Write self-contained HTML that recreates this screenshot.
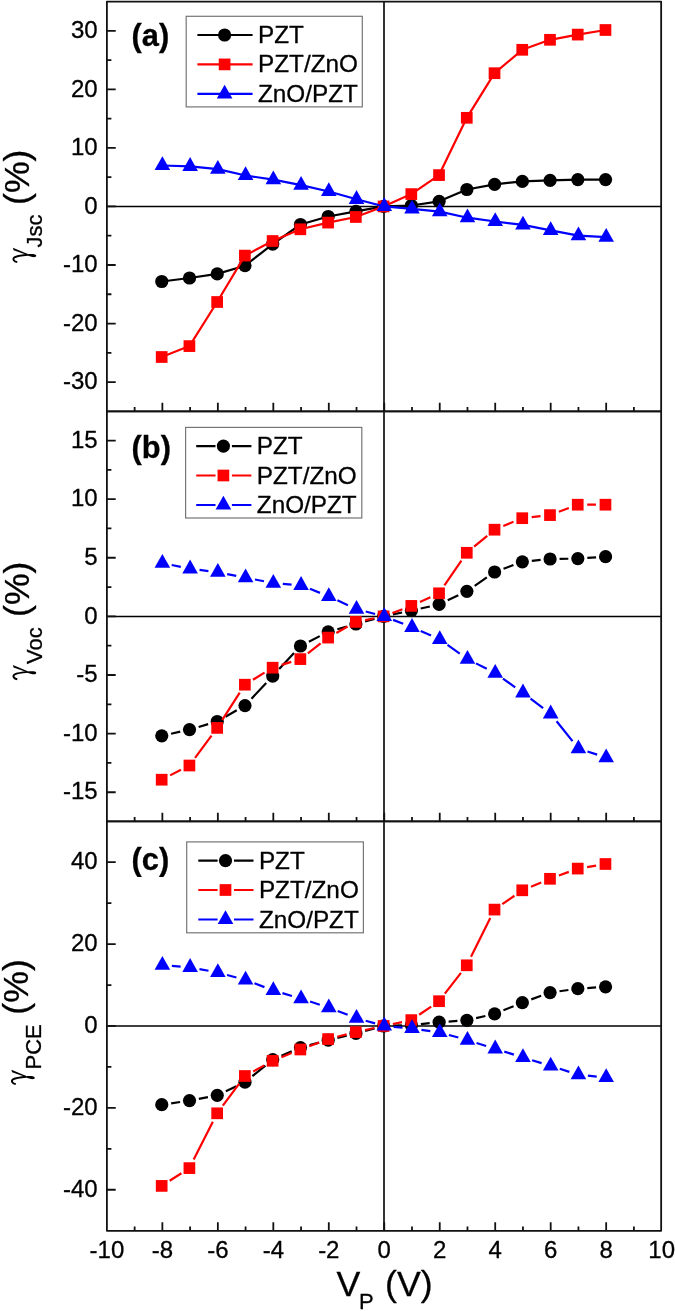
<!DOCTYPE html><html><head><meta charset="utf-8"><style>html,body{margin:0;padding:0;background:#fff;}svg{display:block;font-family:"Liberation Sans",sans-serif;}text{filter:grayscale(1);stroke:#000;stroke-width:0.3px;}</style></head><body>
<svg width="675" height="1311" viewBox="0 0 675 1311">
<rect width="675" height="1311" fill="#fff"/>
<path d="M106.9 206.45H661.15" stroke="#000" stroke-width="1.5" fill="none"/>
<path d="M384 1.6V411.3" stroke="#333" stroke-width="2" fill="none"/>
<g stroke="#111" stroke-width="1.8" fill="none" stroke-linejoin="round">
<path d="M106.9 1.6H661.15V411.3H106.9Z"/>
<path d="M106.9 382.07h8.8M106.9 352.8h4.5M106.9 323.53h8.8M106.9 294.26h4.5M106.9 264.99h8.8M106.9 235.72h4.5M106.9 206.45h8.8M106.9 177.18h4.5M106.9 147.91h8.8M106.9 118.64h4.5M106.9 89.37h8.8M106.9 60.1h4.5M106.9 30.83h8.8M134.64 411.3v-4.3M162.37 411.3v-8.6M190.11 411.3v-4.3M217.85 411.3v-8.6M245.58 411.3v-4.3M273.32 411.3v-8.6M301.06 411.3v-4.3M328.8 411.3v-8.6M356.53 411.3v-4.3M384.27 411.3v-8.6M412.01 411.3v-4.3M439.74 411.3v-8.6M467.48 411.3v-4.3M495.22 411.3v-8.6M522.95 411.3v-4.3M550.69 411.3v-8.6M578.43 411.3v-4.3M606.17 411.3v-8.6M633.9 411.3v-4.3"/>
</g>
<g font-size="24" text-anchor="end" fill="#000">
<text x="97.6" y="38.03">30</text>
<text x="97.6" y="96.57">20</text>
<text x="97.6" y="155.11">10</text>
<text x="97.6" y="213.65">0</text>
<text x="97.6" y="272.19">-10</text>
<text x="97.6" y="330.73">-20</text>
<text x="97.6" y="389.27">-30</text>
</g>
<path d="M161.77 281.5L189.51 278L217.25 273.9L244.98 265.7L272.72 244.1L300.46 224.5L328.2 216.5L355.93 211.4L383.67 206.45L411.41 205.5L439.14 201.3L466.88 189.5L494.62 184.3L522.35 181.4L550.09 180.4L577.83 179.6L605.57 179.6" fill="none" stroke="#000000" stroke-width="2.2" stroke-linejoin="round"/>
<circle cx="161.77" cy="281.5" r="6.6" fill="#000"/><circle cx="189.51" cy="278" r="6.6" fill="#000"/><circle cx="217.25" cy="273.9" r="6.6" fill="#000"/><circle cx="244.98" cy="265.7" r="6.6" fill="#000"/><circle cx="272.72" cy="244.1" r="6.6" fill="#000"/><circle cx="300.46" cy="224.5" r="6.6" fill="#000"/><circle cx="328.2" cy="216.5" r="6.6" fill="#000"/><circle cx="355.93" cy="211.4" r="6.6" fill="#000"/><circle cx="383.67" cy="206.45" r="6.6" fill="#000"/><circle cx="411.41" cy="205.5" r="6.6" fill="#000"/><circle cx="439.14" cy="201.3" r="6.6" fill="#000"/><circle cx="466.88" cy="189.5" r="6.6" fill="#000"/><circle cx="494.62" cy="184.3" r="6.6" fill="#000"/><circle cx="522.35" cy="181.4" r="6.6" fill="#000"/><circle cx="550.09" cy="180.4" r="6.6" fill="#000"/><circle cx="577.83" cy="179.6" r="6.6" fill="#000"/><circle cx="605.57" cy="179.6" r="6.6" fill="#000"/>
<path d="M161.67 357L189.41 346.1L217.15 302L244.88 255.6L272.62 241L300.36 229.3L328.1 222.6L355.83 217L383.57 206.45L411.31 194.1L439.04 175.1L466.78 117.8L494.52 73.2L522.25 49.8L549.99 39.8L577.73 34.6L605.47 30" fill="none" stroke="#ff0000" stroke-width="2.2" stroke-linejoin="round"/>
<rect x="155.82" y="351.15" width="11.7" height="11.7" fill="#f00"/><rect x="183.56" y="340.25" width="11.7" height="11.7" fill="#f00"/><rect x="211.3" y="296.15" width="11.7" height="11.7" fill="#f00"/><rect x="239.03" y="249.75" width="11.7" height="11.7" fill="#f00"/><rect x="266.77" y="235.15" width="11.7" height="11.7" fill="#f00"/><rect x="294.51" y="223.45" width="11.7" height="11.7" fill="#f00"/><rect x="322.25" y="216.75" width="11.7" height="11.7" fill="#f00"/><rect x="349.98" y="211.15" width="11.7" height="11.7" fill="#f00"/><rect x="377.72" y="200.6" width="11.7" height="11.7" fill="#f00"/><rect x="405.46" y="188.25" width="11.7" height="11.7" fill="#f00"/><rect x="433.19" y="169.25" width="11.7" height="11.7" fill="#f00"/><rect x="460.93" y="111.95" width="11.7" height="11.7" fill="#f00"/><rect x="488.67" y="67.35" width="11.7" height="11.7" fill="#f00"/><rect x="516.4" y="43.95" width="11.7" height="11.7" fill="#f00"/><rect x="544.14" y="33.95" width="11.7" height="11.7" fill="#f00"/><rect x="571.88" y="28.75" width="11.7" height="11.7" fill="#f00"/><rect x="599.62" y="24.15" width="11.7" height="11.7" fill="#f00"/>
<path d="M162.37 165.5L190.11 166.3L217.85 169.1L245.58 175.5L273.32 179.6L301.06 185.1L328.8 191.5L356.53 199.3L384.27 206.45L412.01 208.9L439.74 211.6L467.48 217.7L495.22 221.5L522.95 224.9L550.69 230.4L578.43 235.7L606.17 237.1" fill="none" stroke="#0000ff" stroke-width="2.2" stroke-linejoin="round"/>
<path d="M162.37 156.3L170.17 170.1L154.57 170.1Z" fill="#00f"/><path d="M190.11 157.1L197.91 170.9L182.31 170.9Z" fill="#00f"/><path d="M217.85 159.9L225.65 173.7L210.05 173.7Z" fill="#00f"/><path d="M245.58 166.3L253.38 180.1L237.78 180.1Z" fill="#00f"/><path d="M273.32 170.4L281.12 184.2L265.52 184.2Z" fill="#00f"/><path d="M301.06 175.9L308.86 189.7L293.26 189.7Z" fill="#00f"/><path d="M328.8 182.3L336.6 196.1L321 196.1Z" fill="#00f"/><path d="M356.53 190.1L364.33 203.9L348.73 203.9Z" fill="#00f"/><path d="M384.27 197.25L392.07 211.05L376.47 211.05Z" fill="#00f"/><path d="M412.01 199.7L419.81 213.5L404.21 213.5Z" fill="#00f"/><path d="M439.74 202.4L447.54 216.2L431.94 216.2Z" fill="#00f"/><path d="M467.48 208.5L475.28 222.3L459.68 222.3Z" fill="#00f"/><path d="M495.22 212.3L503.02 226.1L487.42 226.1Z" fill="#00f"/><path d="M522.95 215.7L530.75 229.5L515.15 229.5Z" fill="#00f"/><path d="M550.69 221.2L558.49 235L542.89 235Z" fill="#00f"/><path d="M578.43 226.5L586.23 240.3L570.63 240.3Z" fill="#00f"/><path d="M606.17 227.9L613.97 241.7L598.37 241.7Z" fill="#00f"/>
<path d="M106.9 616.38H661.15" stroke="#000" stroke-width="1.5" fill="none"/>
<path d="M384 411.3V821.4" stroke="#333" stroke-width="2" fill="none"/>
<g stroke="#111" stroke-width="1.8" fill="none" stroke-linejoin="round">
<path d="M106.9 411.3H661.15V821.4H106.9Z"/>
<path d="M106.9 792.23h8.8M106.9 762.92h4.5M106.9 733.61h8.8M106.9 704.3h4.5M106.9 675h8.8M106.9 645.69h4.5M106.9 616.38h8.8M106.9 587.07h4.5M106.9 557.76h8.8M106.9 528.46h4.5M106.9 499.15h8.8M106.9 469.84h4.5M106.9 440.53h8.8M134.64 821.4v-4.3M162.37 821.4v-8.6M190.11 821.4v-4.3M217.85 821.4v-8.6M245.58 821.4v-4.3M273.32 821.4v-8.6M301.06 821.4v-4.3M328.8 821.4v-8.6M356.53 821.4v-4.3M384.27 821.4v-8.6M412.01 821.4v-4.3M439.74 821.4v-8.6M467.48 821.4v-4.3M495.22 821.4v-8.6M522.95 821.4v-4.3M550.69 821.4v-8.6M578.43 821.4v-4.3M606.17 821.4v-8.6M633.9 821.4v-4.3"/>
</g>
<g font-size="24" text-anchor="end" fill="#000">
<text x="97.6" y="447.73">15</text>
<text x="97.6" y="506.35">10</text>
<text x="97.6" y="564.97">5</text>
<text x="97.6" y="623.58">0</text>
<text x="97.6" y="682.2">-5</text>
<text x="97.6" y="740.81">-10</text>
<text x="97.6" y="799.43">-15</text>
</g>
<path d="M171.05 733.73L180.24 731.67M198.63 726.94L208.13 724.16M225.49 716.78L236.74 710.32M251.49 698.68L266.21 683.02M279.16 669.11L294.02 652.99M308.92 641.67L319.74 636.13M337.34 629.23L346.79 626.57M365.09 621.48L374.51 618.9M392.97 614.44L402.11 612.54M420.68 608.53L429.87 606.47M447.73 600.34L458.29 595.36M474.68 585.87L486.82 577.43M503.53 568.72L513.44 565.08M531.81 560.85L540.64 559.95M559.59 558.86L568.33 558.74M587.31 557.95L596.09 557.35" fill="none" stroke="#000000" stroke-width="2.2" stroke-linejoin="round"/>
<circle cx="161.77" cy="735.8" r="6.6" fill="#000"/><circle cx="189.51" cy="729.6" r="6.6" fill="#000"/><circle cx="217.25" cy="721.5" r="6.6" fill="#000"/><circle cx="244.98" cy="705.6" r="6.6" fill="#000"/><circle cx="272.72" cy="676.1" r="6.6" fill="#000"/><circle cx="300.46" cy="646" r="6.6" fill="#000"/><circle cx="328.2" cy="631.8" r="6.6" fill="#000"/><circle cx="355.93" cy="624" r="6.6" fill="#000"/><circle cx="383.67" cy="616.38" r="6.6" fill="#000"/><circle cx="411.41" cy="610.6" r="6.6" fill="#000"/><circle cx="439.14" cy="604.4" r="6.6" fill="#000"/><circle cx="466.88" cy="591.3" r="6.6" fill="#000"/><circle cx="494.62" cy="572" r="6.6" fill="#000"/><circle cx="522.35" cy="561.8" r="6.6" fill="#000"/><circle cx="550.09" cy="559" r="6.6" fill="#000"/><circle cx="577.83" cy="558.6" r="6.6" fill="#000"/><circle cx="605.57" cy="556.7" r="6.6" fill="#000"/>
<path d="M170.13 775.37L180.95 769.83M195.05 757.86L211.51 735.54M222.28 719.91L239.75 692.69M252.98 679.74L264.52 672.66M281.7 664.89L291.29 661.91M307.87 653.28L320.59 643.42M336.36 632.92L347.57 626.58M365.15 620.05L374.25 618.23M392.46 613.02L402.42 609.26M419.96 601.97L430.39 597.23M444.41 585.46L461.41 560.64M474.08 546.72L487.22 535.78M503.29 526.06L513.48 521.84M531.7 517.14L540.55 516.16M558.89 511.76L568.83 508.04M587.23 504.7L595.97 504.7" fill="none" stroke="#ff0000" stroke-width="2.2" stroke-linejoin="round"/>
<rect x="155.82" y="773.85" width="11.7" height="11.7" fill="#f00"/><rect x="183.56" y="759.65" width="11.7" height="11.7" fill="#f00"/><rect x="211.3" y="722.05" width="11.7" height="11.7" fill="#f00"/><rect x="239.03" y="678.85" width="11.7" height="11.7" fill="#f00"/><rect x="266.77" y="661.85" width="11.7" height="11.7" fill="#f00"/><rect x="294.51" y="653.25" width="11.7" height="11.7" fill="#f00"/><rect x="322.25" y="631.75" width="11.7" height="11.7" fill="#f00"/><rect x="349.98" y="616.05" width="11.7" height="11.7" fill="#f00"/><rect x="377.72" y="610.53" width="11.7" height="11.7" fill="#f00"/><rect x="405.46" y="600.05" width="11.7" height="11.7" fill="#f00"/><rect x="433.19" y="587.45" width="11.7" height="11.7" fill="#f00"/><rect x="460.93" y="546.95" width="11.7" height="11.7" fill="#f00"/><rect x="488.67" y="523.85" width="11.7" height="11.7" fill="#f00"/><rect x="516.4" y="512.35" width="11.7" height="11.7" fill="#f00"/><rect x="544.14" y="509.25" width="11.7" height="11.7" fill="#f00"/><rect x="571.88" y="498.85" width="11.7" height="11.7" fill="#f00"/><rect x="599.62" y="498.85" width="11.7" height="11.7" fill="#f00"/>
<path d="M171.68 565.01L180.81 566.89M199.54 569.96L208.42 571.04M227.17 574.05L236.27 575.85M254.91 579.52L264 581.28M282.79 583.85L291.59 584.55M309.88 588.83L319.98 592.87M337.43 600.35L347.9 605.15M365.72 611.51L375.08 613.97M393.11 619.86L403.17 623.82M420.71 631.1L431.04 635.6M447.49 644.9L459.74 653.6M475.96 663.38L486.74 668.82M502.96 678.6L515.21 687.3M530.53 698.53L543.12 708.07M556.61 721.23L572.51 741.17M587.47 751.53L597.13 754.67" fill="none" stroke="#0000ff" stroke-width="2.2" stroke-linejoin="round"/>
<path d="M162.37 553.9L170.17 567.7L154.57 567.7Z" fill="#00f"/><path d="M190.11 559.6L197.91 573.4L182.31 573.4Z" fill="#00f"/><path d="M217.85 563L225.65 576.8L210.05 576.8Z" fill="#00f"/><path d="M245.58 568.5L253.38 582.3L237.78 582.3Z" fill="#00f"/><path d="M273.32 573.9L281.12 587.7L265.52 587.7Z" fill="#00f"/><path d="M301.06 576.1L308.86 589.9L293.26 589.9Z" fill="#00f"/><path d="M328.8 587.2L336.6 601L321 601Z" fill="#00f"/><path d="M356.53 599.9L364.33 613.7L348.73 613.7Z" fill="#00f"/><path d="M384.27 607.18L392.07 620.98L376.47 620.98Z" fill="#00f"/><path d="M412.01 618.1L419.81 631.9L404.21 631.9Z" fill="#00f"/><path d="M439.74 630.2L447.54 644L431.94 644Z" fill="#00f"/><path d="M467.48 649.9L475.28 663.7L459.68 663.7Z" fill="#00f"/><path d="M495.22 663.9L503.02 677.7L487.42 677.7Z" fill="#00f"/><path d="M522.95 683.6L530.75 697.4L515.15 697.4Z" fill="#00f"/><path d="M550.69 704.6L558.49 718.4L542.89 718.4Z" fill="#00f"/><path d="M578.43 739.4L586.23 753.2L570.63 753.2Z" fill="#00f"/><path d="M606.17 748.4L613.97 762.2L598.37 762.2Z" fill="#00f"/>
<path d="M106.9 1025.97H661.15" stroke="#000" stroke-width="1.5" fill="none"/>
<path d="M384 821.4V1230.8" stroke="#333" stroke-width="2" fill="none"/>
<g stroke="#111" stroke-width="1.8" fill="none" stroke-linejoin="round">
<path d="M106.9 821.4H661.15V1230.8H106.9Z"/>
<path d="M106.9 1189.75h8.8M106.9 1148.8h4.5M106.9 1107.86h8.8M106.9 1066.91h4.5M106.9 1025.97h8.8M106.9 985.03h4.5M106.9 944.08h8.8M106.9 903.14h4.5M106.9 862.19h8.8M134.64 1230.8v-4.3M162.37 1230.8v-8.6M190.11 1230.8v-4.3M217.85 1230.8v-8.6M245.58 1230.8v-4.3M273.32 1230.8v-8.6M301.06 1230.8v-4.3M328.8 1230.8v-8.6M356.53 1230.8v-4.3M384.27 1230.8v-8.6M412.01 1230.8v-4.3M439.74 1230.8v-8.6M467.48 1230.8v-4.3M495.22 1230.8v-8.6M522.95 1230.8v-4.3M550.69 1230.8v-8.6M578.43 1230.8v-4.3M606.17 1230.8v-8.6M633.9 1230.8v-4.3"/>
</g>
<g font-size="24" text-anchor="end" fill="#000">
<text x="97.6" y="869.39">40</text>
<text x="97.6" y="951.28">20</text>
<text x="97.6" y="1033.17">0</text>
<text x="97.6" y="1115.06">-20</text>
<text x="97.6" y="1196.95">-40</text>
</g>
<path d="M171.17 1103.31L180.11 1101.99M198.84 1098.82L207.92 1097.08M225.84 1091.24L236.39 1086.26M252.35 1076.2L265.36 1065.6M281.44 1055.83L291.74 1051.37M309.64 1045.15L319.02 1042.65M337.42 1037.94L346.71 1035.66M365.11 1030.94L374.49 1028.43M393.16 1025.64L401.91 1025.33M420.86 1024.05L429.69 1023.15M448.62 1021.55L457.4 1020.95M476.13 1018.13L485.37 1015.97M503.43 1010.24L513.55 1006.16M531.29 999.38L541.16 995.82M559.5 991.28L568.42 990.02M587.31 988.05L596.09 987.45" fill="none" stroke="#000000" stroke-width="2.2" stroke-linejoin="round"/>
<circle cx="161.77" cy="1104.7" r="6.6" fill="#000"/><circle cx="189.51" cy="1100.6" r="6.6" fill="#000"/><circle cx="217.25" cy="1095.3" r="6.6" fill="#000"/><circle cx="244.98" cy="1082.2" r="6.6" fill="#000"/><circle cx="272.72" cy="1059.6" r="6.6" fill="#000"/><circle cx="300.46" cy="1047.6" r="6.6" fill="#000"/><circle cx="328.2" cy="1040.2" r="6.6" fill="#000"/><circle cx="355.93" cy="1033.4" r="6.6" fill="#000"/><circle cx="383.67" cy="1025.97" r="6.6" fill="#000"/><circle cx="411.41" cy="1025" r="6.6" fill="#000"/><circle cx="439.14" cy="1022.2" r="6.6" fill="#000"/><circle cx="466.88" cy="1020.3" r="6.6" fill="#000"/><circle cx="494.62" cy="1013.8" r="6.6" fill="#000"/><circle cx="522.35" cy="1002.6" r="6.6" fill="#000"/><circle cx="550.09" cy="992.6" r="6.6" fill="#000"/><circle cx="577.83" cy="988.7" r="6.6" fill="#000"/><circle cx="605.57" cy="986.8" r="6.6" fill="#000"/>
<path d="M169.67 1180.77L181.42 1173.23M193.7 1159.62L212.86 1121.78M222.82 1105.68L239.22 1083.62M253.22 1071.43L264.29 1065.37M281.42 1057.22L291.56 1053.08M309.25 1046.16L319.2 1042.44M337.31 1036.78L346.62 1034.42M365.11 1030.05L374.29 1028.02M392.86 1024L402.01 1022.07M419.16 1014.75L431.19 1006.55M444.85 993.68L460.97 972.82M471.02 956.8L490.28 918.1M502.32 904.17L514.46 895.73M531.03 886.66L541.22 882.44M558.91 875.52L568.81 871.88M587.1 867.05L596.09 865.55" fill="none" stroke="#ff0000" stroke-width="2.2" stroke-linejoin="round"/>
<rect x="155.82" y="1180.05" width="11.7" height="11.7" fill="#f00"/><rect x="183.56" y="1162.25" width="11.7" height="11.7" fill="#f00"/><rect x="211.3" y="1107.45" width="11.7" height="11.7" fill="#f00"/><rect x="239.03" y="1070.15" width="11.7" height="11.7" fill="#f00"/><rect x="266.77" y="1054.95" width="11.7" height="11.7" fill="#f00"/><rect x="294.51" y="1043.65" width="11.7" height="11.7" fill="#f00"/><rect x="322.25" y="1033.25" width="11.7" height="11.7" fill="#f00"/><rect x="349.98" y="1026.25" width="11.7" height="11.7" fill="#f00"/><rect x="377.72" y="1020.12" width="11.7" height="11.7" fill="#f00"/><rect x="405.46" y="1014.25" width="11.7" height="11.7" fill="#f00"/><rect x="433.19" y="995.35" width="11.7" height="11.7" fill="#f00"/><rect x="460.93" y="959.45" width="11.7" height="11.7" fill="#f00"/><rect x="488.67" y="903.75" width="11.7" height="11.7" fill="#f00"/><rect x="516.4" y="884.45" width="11.7" height="11.7" fill="#f00"/><rect x="544.14" y="872.95" width="11.7" height="11.7" fill="#f00"/><rect x="571.88" y="862.75" width="11.7" height="11.7" fill="#f00"/><rect x="599.62" y="858.15" width="11.7" height="11.7" fill="#f00"/>
<path d="M171.84 965.85L180.64 966.55M199.45 969.05L208.51 970.75M227.03 974.95L236.41 977.45M254.46 983.29L264.45 987.11M282.44 993.16L291.94 995.94M310.09 1001.56L319.77 1004.74M337.69 1011.04L347.64 1014.76M365.67 1020.69L375.13 1023.38M393.73 1026.83L402.55 1027.64M421.41 1029.82L430.34 1031.08M448.9 1034.94L458.33 1037.56M476.55 1042.94L486.15 1045.96M504.29 1051.61L513.88 1054.59M532.04 1060.18L541.61 1063.12M559.75 1068.77L569.37 1071.83M587.88 1075.65L596.71 1076.55" fill="none" stroke="#0000ff" stroke-width="2.2" stroke-linejoin="round"/>
<path d="M162.37 955.9L170.17 969.7L154.57 969.7Z" fill="#00f"/><path d="M190.11 958.1L197.91 971.9L182.31 971.9Z" fill="#00f"/><path d="M217.85 963.3L225.65 977.1L210.05 977.1Z" fill="#00f"/><path d="M245.58 970.7L253.38 984.5L237.78 984.5Z" fill="#00f"/><path d="M273.32 981.3L281.12 995.1L265.52 995.1Z" fill="#00f"/><path d="M301.06 989.4L308.86 1003.2L293.26 1003.2Z" fill="#00f"/><path d="M328.8 998.5L336.6 1012.3L321 1012.3Z" fill="#00f"/><path d="M356.53 1008.9L364.33 1022.7L348.73 1022.7Z" fill="#00f"/><path d="M384.27 1016.77L392.07 1030.57L376.47 1030.57Z" fill="#00f"/><path d="M412.01 1019.3L419.81 1033.1L404.21 1033.1Z" fill="#00f"/><path d="M439.74 1023.2L447.54 1037L431.94 1037Z" fill="#00f"/><path d="M467.48 1030.9L475.28 1044.7L459.68 1044.7Z" fill="#00f"/><path d="M495.22 1039.6L503.02 1053.4L487.42 1053.4Z" fill="#00f"/><path d="M522.95 1048.2L530.75 1062L515.15 1062Z" fill="#00f"/><path d="M550.69 1056.7L558.49 1070.5L542.89 1070.5Z" fill="#00f"/><path d="M578.43 1065.5L586.23 1079.3L570.63 1079.3Z" fill="#00f"/><path d="M606.17 1068.3L613.97 1082.1L598.37 1082.1Z" fill="#00f"/>
<g font-size="24" text-anchor="middle" fill="#000">
<text x="106.9" y="1258.2">-10</text>
<text x="162.37" y="1258.2">-8</text>
<text x="217.85" y="1258.2">-6</text>
<text x="273.32" y="1258.2">-4</text>
<text x="328.8" y="1258.2">-2</text>
<text x="384.27" y="1258.2">0</text>
<text x="439.74" y="1258.2">2</text>
<text x="495.22" y="1258.2">4</text>
<text x="550.69" y="1258.2">6</text>
<text x="606.17" y="1258.2">8</text>
<text x="661.64" y="1258.2">10</text>
</g>
<text x="131.6" y="46.2" font-size="30.8" font-weight="bold">(a)</text>
<text x="131.6" y="458" font-size="30.8" font-weight="bold">(b)</text>
<text x="131.6" y="869.7" font-size="30.8" font-weight="bold">(c)</text>
<rect x="186.2" y="16.3" width="176.1" height="90.6" fill="#fff" stroke="#767676" stroke-width="1.2"/>
<path d="M197.4 35H252.6" stroke="#000000" stroke-width="2.2"/>
<circle cx="224.6" cy="35" r="6.6" fill="#000"/>
<text x="258" y="43" font-size="24.3">PZT</text>
<path d="M197.4 64.4H252.6" stroke="#ff0000" stroke-width="2.2"/>
<rect x="218.75" y="58.55" width="11.7" height="11.7" fill="#f00"/>
<text x="258" y="72.4" font-size="24.3">PZT/ZnO</text>
<path d="M197.4 93.9H252.6" stroke="#0000ff" stroke-width="2.2"/>
<path d="M224.6 84.7L232.4 98.5L216.8 98.5Z" fill="#00f"/>
<text x="258" y="101.9" font-size="24.3">ZnO/PZT</text>
<rect x="185.6" y="427.4" width="176.2" height="90.6" fill="#fff" stroke="#767676" stroke-width="1.2"/>
<path d="M196.2 446.1H215.5M231.9 446.1H251.4" stroke="#000000" stroke-width="2.2"/>
<circle cx="223.4" cy="446.1" r="6.6" fill="#000"/>
<text x="256.8" y="454.1" font-size="24.3">PZT</text>
<path d="M196.2 475.5H215.5M231.9 475.5H251.4" stroke="#ff0000" stroke-width="2.2"/>
<rect x="217.55" y="469.65" width="11.7" height="11.7" fill="#f00"/>
<text x="256.8" y="483.5" font-size="24.3">PZT/ZnO</text>
<path d="M196.2 505H215.5M231.9 505H251.4" stroke="#0000ff" stroke-width="2.2"/>
<path d="M223.4 495.8L231.2 509.6L215.6 509.6Z" fill="#00f"/>
<text x="256.8" y="513" font-size="24.3">ZnO/PZT</text>
<rect x="186.7" y="841.9" width="176.7" height="90.9" fill="#fff" stroke="#767676" stroke-width="1.2"/>
<path d="M198.3 860.6H217.6M234 860.6H253.5" stroke="#000000" stroke-width="2.2"/>
<circle cx="225.5" cy="860.6" r="6.6" fill="#000"/>
<text x="258.9" y="868.6" font-size="24.3">PZT</text>
<path d="M198.3 890H217.6M234 890H253.5" stroke="#ff0000" stroke-width="2.2"/>
<rect x="219.65" y="884.15" width="11.7" height="11.7" fill="#f00"/>
<text x="258.9" y="898" font-size="24.3">PZT/ZnO</text>
<path d="M198.3 919.5H217.6M234 919.5H253.5" stroke="#0000ff" stroke-width="2.2"/>
<path d="M225.5 910.3L233.3 924.1L217.7 924.1Z" fill="#00f"/>
<text x="258.9" y="927.5" font-size="24.3">ZnO/PZT</text>
<g transform="translate(12.6 262.4)"><path d="M0.3 -14.7L1.0 -12.1L14.6 -7.3L14.6 -8.6Z" fill="#000"/><path d="M4.7 -0.3C1.4 -0.9 -0.4 -3.2 1.9 -5.1C4.5 -6.5 9.5 -7.2 15.2 -7.7" fill="none" stroke="#000" stroke-width="1.9"/><path d="M14.4 -7.9C17 -8.6 20.3 -8.5 22.3 -8.0C24.1 -7.5 24.1 -5.6 22.3 -5.3C20.3 -5.0 17 -6.0 14.4 -7.1Z" fill="#000"/></g>
<text transform="translate(42.2 247.5) rotate(-90)" font-size="22">Jsc</text>
<text transform="translate(29.2 205) rotate(-90)" font-size="35.7">(%)</text>
<g transform="translate(12.6 679.6)"><path d="M0.3 -14.7L1.0 -12.1L14.6 -7.3L14.6 -8.6Z" fill="#000"/><path d="M4.7 -0.3C1.4 -0.9 -0.4 -3.2 1.9 -5.1C4.5 -6.5 9.5 -7.2 15.2 -7.7" fill="none" stroke="#000" stroke-width="1.9"/><path d="M14.4 -7.9C17 -8.6 20.3 -8.5 22.3 -8.0C24.1 -7.5 24.1 -5.6 22.3 -5.3C20.3 -5.0 17 -6.0 14.4 -7.1Z" fill="#000"/></g>
<text transform="translate(42.2 664) rotate(-90)" font-size="22">Voc</text>
<text transform="translate(29.2 617) rotate(-90)" font-size="35.7">(%)</text>
<g transform="translate(11.1 1084.4)"><path d="M0.3 -14.7L1.0 -12.1L14.6 -7.3L14.6 -8.6Z" fill="#000"/><path d="M4.7 -0.3C1.4 -0.9 -0.4 -3.2 1.9 -5.1C4.5 -6.5 9.5 -7.2 15.2 -7.7" fill="none" stroke="#000" stroke-width="1.9"/><path d="M14.4 -7.9C17 -8.6 20.3 -8.5 22.3 -8.0C24.1 -7.5 24.1 -5.6 22.3 -5.3C20.3 -5.0 17 -6.0 14.4 -7.1Z" fill="#000"/></g>
<text transform="translate(40.7 1069.5) rotate(-90)" font-size="22">PCE</text>
<text transform="translate(27.9 1014.7) rotate(-90)" font-size="35.7">(%)</text>
<text x="336.5" y="1296.2" font-size="35.7">V</text>
<text x="359" y="1308.9" font-size="22">P</text>
<text x="385" y="1296.2" font-size="35.7">(V)</text>
</svg></body></html>
